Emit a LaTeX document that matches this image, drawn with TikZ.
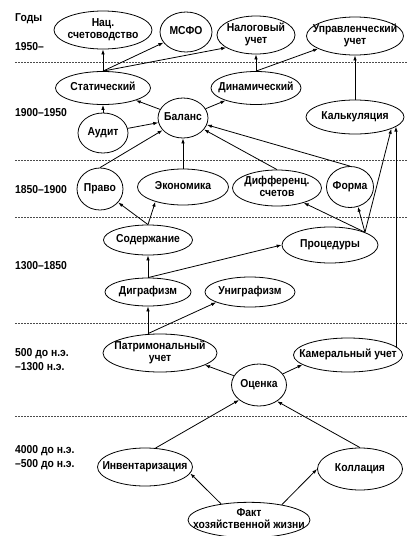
\documentclass[tikz,border=0pt]{standalone}
\usepackage{fontspec}
\setmainfont{Liberation Sans}[FakeStretch=0.9]
\usetikzlibrary{arrows.meta,
                shapes.geometric}
\newcommand{\etxt}[1]{\makebox[0pt]{\begin{tabular}{@{}c@{}}#1\end{tabular}}}

\begin{document}
\begin{tikzpicture}[x=1pt, y=-1pt,
    font=\bfseries\fontsize{11.5}{12.5}\selectfont,
    ell/.style 2 args={draw, ellipse, inner sep=0pt, minimum width=#1pt, minimum height=#2pt, line width=0.8pt},
    arr/.style={line width=0.8pt, -{Latex[length=5pt,width=3.5pt]}},
    period/.style={anchor=west, align=left, inner sep=0pt, font=\bfseries\fontsize{11.5}{14}\selectfont},
    border/.style={line width=0.6pt, dash pattern=on 2pt off 1pt, black!70}]
    \useasboundingbox (0,0) rectangle (409,536);
    \foreach \y in {62,160,217,323,416}
        \draw[border] (15,\y) -- (407,\y);
    \node[period] (p0) at (15,19) {Годы};
    \node[period] (p1) at (15,47) {1950--};
    \node[period] (p2) at (15,113) {1900--1950};
    \node[period] (p3) at (15,190) {1850--1900};
    \node[period] (p4) at (15,266) {1300--1850};
    \node[period] (p5) at (15,360) {500 до н.э.\\--1300 н.э.};
    \node[period] (p6) at (15,458) {4000 до н.э.\\--500 до н.э.};
    \node[ell={98}{38}] (nac) at (103,30) {\etxt{Нац.\\счетоводство}};
    \node[ell={52}{40}] (msfo) at (186,32) {\etxt{МСФО}};
    \node[ell={78}{38}] (nal) at (256,35) {\etxt{Налоговый\\учет}};
    \node[ell={97}{38}] (upr) at (355,36) {\etxt{Управленческий\\учет}};
    \node[ell={95}{33}] (stat) at (103,88) {\etxt{Статический}};
    \node[ell={90}{33}] (din) at (256,88) {\etxt{Динамический}};
    \node[ell={98}{34}] (kalk) at (355,117) {\etxt{Калькуляция}};
    \node[ell={50}{40}] (aud) at (103,133) {\etxt{Аудит}};
    \node[ell={50}{40}] (bal) at (183,118) {\etxt{Баланс}};
    \node[ell={46}{42}] (pravo) at (100,189) {\etxt{Право}};
    \node[ell={91}{36}] (econ) at (183,187) {\etxt{Экономика}};
    \node[ell={89}{36}] (dif) at (277,188) {\etxt{Дифференц.\\счетов}};
    \node[ell={47}{41}] (forma) at (350,187) {\etxt{Форма}};
    \node[ell={89}{30}] (sod) at (148,240) {\etxt{Содержание}};
    \node[ell={96}{36}] (proc) at (330,245) {\etxt{Процедуры}};
    \node[ell={86}{28}] (dig) at (148,292) {\etxt{Диграфизм}};
    \node[ell={90}{30}] (uni) at (250,292) {\etxt{Униграфизм}};
    \node[ell={114}{38}] (pat) at (160,353) {\etxt{Патримональный\\учет}};
    \node[ell={109}{34}] (kam) at (348,355) {\etxt{Камеральный учет}};
    \node[ell={55}{42}] (ots) at (259,385) {\etxt{Оценка}};
    \node[ell={95}{38}] (inv) at (145,467) {\etxt{Инвентаризация}};
    \node[ell={85}{42}] (koll) at (360,469) {\etxt{Коллация}};
    \node[ell={122}{34}] (fakt) at (249,520) {\etxt{Факт\\хозяйственной жизни}};
    \coordinate (patop) at (pat.north -| dig);
    \draw[arr] (stat) -- (nac);
    \draw[arr] (stat.north) -- (msfo);
    \draw[arr] (stat.north) -- (nal.203);
    \draw[arr] (din) -- (nal);
    \draw[arr] (din.north) -- (upr.199);
    \draw[arr] (kalk) -- (upr);
    \draw[arr] (aud) -- (stat);
    \draw[arr] (aud) -- (bal);
    \draw[arr] (bal) -- (stat);
    \draw[arr] (bal) -- (din);
    \draw[arr] (pravo.north) -- (bal);
    \draw[arr] (econ) -- (bal);
    \draw[arr] (dif.north) -- (bal);
    \draw[arr] (forma.north) -- (bal);
    \draw[arr] (sod.north) -- (pravo);
    \draw[arr] (sod.north) -- (econ.208);
    \draw[arr] (dig) -- (sod);
    \draw[arr] (dig.north) -- (proc.west);
    \draw[arr] (proc.20) -- (dif.-29);
    \draw[arr] (proc.20) -- (forma.-68);
    \draw[arr] (proc.20) -- (kalk.-18);
    \draw[arr] (kam.10) -- (kam.10 |- kalk.-13);
    \draw[arr] (patop) -- (dig);
    \draw[arr] (patop) -- (uni.197);
    \draw[arr] (ots) -- (pat.-15);
    \draw[arr] (ots) -- (kam.192);
    \draw[arr] (inv.61) -- (ots.217);
    \draw[arr] (koll.north) -- (ots.-42);
    \draw[arr] (fakt.150) -- (inv.-8);
    \draw[arr] (fakt.25) -- (koll.west);
\end{tikzpicture}
\end{document}
